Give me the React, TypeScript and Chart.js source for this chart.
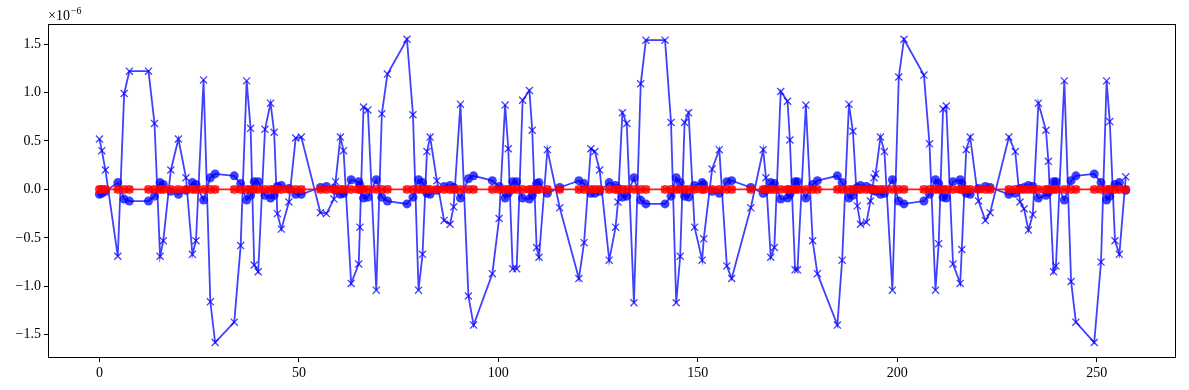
import React, { useEffect, useRef } from "react";
import { Chart, registerables } from "chart.js";

Chart.register(...registerables);

// x positions of the samples
const xValues = [
  0.0, 0.6, 1.5, 4.6, 6.2, 7.5, 12.3, 13.8, 15.2, 16.0,
  17.9, 19.8, 21.7, 23.3, 24.2, 26.1, 27.8, 29.0, 33.8, 35.4,
  36.9, 37.9, 38.8, 39.8, 41.5, 42.9, 43.8, 44.6, 45.6, 47.5,
  49.2, 50.6, 55.4, 56.9, 58.8, 59.2, 60.4, 61.2, 63.1, 65.0,
  65.3, 66.2, 67.3, 69.4, 70.8, 72.2, 77.1, 78.6, 80.0, 81.0,
  82.1, 82.9, 84.6, 86.4, 87.9, 88.8, 90.5, 92.5, 93.8, 98.5,
  100.2, 101.7, 102.5, 103.6, 104.6, 106.1, 107.8, 108.5, 109.6, 110.2,
  112.3, 115.4, 120.2, 121.5, 123.2, 124.2, 125.4, 127.8, 129.4, 130.0,
  131.1, 132.2, 134.0, 135.7, 137.0, 141.8, 143.3, 144.6, 145.6, 146.7,
  147.7, 149.2, 151.1, 151.5, 153.6, 155.4, 157.3, 158.5, 163.3, 166.4,
  167.1, 168.3, 169.2, 170.8, 172.5, 173.1, 174.4, 175.0, 177.1, 178.8,
  180.0, 185.0, 186.2, 187.9, 188.9, 190.0, 190.8, 192.3, 193.3, 194.2,
  194.6, 195.8, 196.8, 198.8, 200.4, 201.7, 206.7, 208.1, 209.6, 210.4,
  211.5, 212.3, 214.0, 215.8, 216.2, 217.3, 218.3, 220.4, 222.1, 223.3,
  228.0, 229.6, 230.8, 231.8, 232.9, 234.0, 235.4, 237.3, 237.9, 239.2,
  239.8, 241.9, 243.6, 244.8, 249.4, 251.1, 252.5, 253.3, 254.6, 255.7,
  257.3,
];

// blue "x" series, in units of 1e-6
const blueCrossValues = [
  0.52, 0.40, 0.20, -0.69, 0.99, 1.22, 1.22, 0.68, -0.69, -0.53,
  0.20, 0.52, 0.12, -0.67, -0.53, 1.13, -1.16, -1.58, -1.37, -0.58,
  1.12, 0.63, -0.78, -0.85, 0.62, 0.89, 0.59, -0.25, -0.41, -0.13,
  0.53, 0.54, -0.24, -0.25, -0.10, 0.08, 0.54, 0.40, -0.97, -0.77,
  -0.39, 0.85, 0.82, -1.04, 0.78, 1.19, 1.55, 0.77, -1.04, -0.67,
  0.39, 0.54, 0.09, -0.32, -0.36, -0.18, 0.88, -1.10, -1.40, -0.87,
  -0.30, 0.87, 0.42, -0.82, -0.82, 0.92, 1.02, 0.61, -0.60, -0.70,
  0.41, -0.19, -0.92, -0.55, 0.42, 0.39, 0.20, -0.73, -0.39, -0.13,
  0.79, 0.68, -1.17, 1.09, 1.54, 1.54, 0.69, -1.17, -0.69, 0.69,
  0.79, -0.39, -0.73, -0.51, 0.21, 0.41, -0.79, -0.92, -0.19, 0.41,
  0.12, -0.70, -0.60, 1.01, 0.91, 0.51, -0.83, -0.83, 0.87, -0.53,
  -0.87, -1.40, -0.73, 0.88, 0.60, -0.17, -0.36, -0.34, -0.12, 0.12,
  0.16, 0.54, 0.39, -1.04, 1.16, 1.55, 1.18, 0.47, -1.04, -0.56,
  0.83, 0.86, -0.77, -0.97, -0.62, 0.41, 0.54, -0.12, -0.32, -0.24,
  0.54, 0.39, -0.13, -0.20, -0.42, -0.26, 0.89, 0.61, 0.29, -0.85,
  -0.79, 1.12, -0.95, -1.37, -1.58, -0.75, 1.12, 0.70, -0.53, -0.67,
  0.13,
];

// blue "o" series, in units of 1e-6
const blueCircleValues = [
  -0.05, -0.04, -0.02, 0.07, -0.10, -0.12, -0.12, -0.07, 0.07, 0.05,
  -0.02, -0.05, -0.01, 0.07, 0.05, -0.11, 0.12, 0.16, 0.14, 0.06,
  -0.11, -0.06, 0.08, 0.08, -0.06, -0.09, -0.06, 0.03, 0.04, 0.01,
  -0.05, -0.05, 0.02, 0.03, 0.01, -0.01, -0.05, -0.04, 0.10, 0.08,
  0.04, -0.09, -0.08, 0.10, -0.08, -0.12, -0.15, -0.08, 0.10, 0.07,
  -0.04, -0.05, -0.01, 0.03, 0.04, 0.02, -0.09, 0.11, 0.14, 0.09,
  0.03, -0.09, -0.04, 0.08, 0.08, -0.09, -0.10, -0.06, 0.06, 0.07,
  -0.04, 0.02, 0.09, 0.06, -0.04, -0.04, -0.02, 0.07, 0.04, 0.01,
  -0.08, -0.07, 0.12, -0.11, -0.15, -0.15, -0.07, 0.12, 0.07, -0.07,
  -0.08, 0.04, 0.07, 0.05, -0.02, -0.04, 0.08, 0.09, 0.02, -0.04,
  -0.01, 0.07, 0.06, -0.10, -0.09, -0.05, 0.08, 0.08, -0.09, 0.05,
  0.09, 0.14, 0.07, -0.09, -0.06, 0.02, 0.04, 0.03, 0.01, -0.01,
  -0.02, -0.05, -0.04, 0.10, -0.12, -0.15, -0.12, -0.05, 0.10, 0.06,
  -0.08, -0.09, 0.08, 0.10, 0.06, -0.04, -0.05, 0.01, 0.03, 0.02,
  -0.05, -0.04, 0.01, 0.02, 0.04, 0.03, -0.09, -0.06, -0.03, 0.08,
  0.08, -0.11, 0.09, 0.14, 0.16, 0.07, -0.11, -0.07, 0.05, 0.07,
  -0.01,
];

// red series (both markers), in units of 1e-6
const redValues = [
  0, 0, 0, 0, 0, 0, 0, 0, 0, 0, 0, 0, 0, 0, 0, 0, 0, 0, 0, 0,
  0, 0, 0, 0, 0, 0, 0, 0, 0, 0, 0, 0, 0, 0, 0, 0, 0, 0, 0, 0,
  0, 0, 0, 0, 0, 0, 0, 0, 0, 0, 0, 0, 0, 0, 0, 0, 0, 0, 0, 0,
  0, 0, 0, 0, 0, 0, 0, 0, 0, 0, 0, 0, 0, 0, 0, 0, 0, 0, 0, 0,
  0, 0, 0, 0, 0, 0, 0, 0, 0, 0, 0, 0, 0, 0, 0, 0, 0, 0, 0, 0,
  0, 0, 0, 0, 0, 0, 0, 0, 0, 0, 0, 0, 0, 0, 0, 0, 0, 0, 0, 0,
  0, 0, 0, 0, 0, 0, 0, 0, 0, 0, 0, 0, 0, 0, 0, 0, 0, 0, 0, 0,
  0, 0, 0, 0, 0, 0, 0, 0, 0, 0, 0, 0, 0, 0, 0, 0, 0, 0, 0, 0,
  0,
];

const xTicks = [0, 50, 100, 150, 200, 250];
const yTicks = [-1.5, -1.0, -0.5, 0.0, 0.5, 1.0, 1.5];
const exponentBase = "×10";
const exponentPower = "−6";

const FONT = '"Liberation Serif", "Times New Roman", serif';

function pts(ys: number[]) {
  return xValues.map((x, i) => ({ x, y: ys[i] }));
}

const framePlugin = {
  id: "frame",
  afterDraw(chart: any) {
    const { ctx, chartArea } = chart;
    ctx.save();
    ctx.strokeStyle = "#000";
    ctx.lineWidth = 1;
    ctx.strokeRect(
      Math.round(chartArea.left) + 0.5,
      Math.round(chartArea.top) + 0.5,
      Math.round(chartArea.right - chartArea.left) - 1,
      Math.round(chartArea.bottom - chartArea.top) - 1
    );
    ctx.fillStyle = "#000";
    ctx.textBaseline = "alphabetic";
    ctx.textAlign = "left";
    ctx.font = `14px ${FONT}`;
    const x0 = chartArea.left;
    ctx.fillText(exponentBase, x0, chartArea.top - 4);
    const w = ctx.measureText(exponentBase).width;
    ctx.font = `10px ${FONT}`;
    ctx.fillText(exponentPower, x0 + w + 1, chartArea.top - 10);
    ctx.restore();
  },
};

export default function App() {
  const ref = useRef<HTMLCanvasElement | null>(null);

  useEffect(() => {
    if (!ref.current) return;
    const blue = "rgba(0,0,255,0.75)";
    const red = "rgba(255,0,0,0.8)";
    const chart = new Chart(ref.current, {
      type: "line",
      data: {
        datasets: [
          {
            data: pts(blueCrossValues),
            borderColor: blue,
            borderWidth: 1.8,
            pointStyle: "crossRot",
            pointRadius: 5,
            pointBorderWidth: 1.3,
            pointBorderColor: blue,
            pointBackgroundColor: blue,
            order: 3,
          },
          {
            data: pts(blueCircleValues),
            borderColor: blue,
            borderWidth: 1.8,
            pointStyle: "circle",
            pointRadius: 4.5,
            pointBorderWidth: 0,
            pointBackgroundColor: blue,
            order: 2,
          },
          {
            data: pts(redValues),
            borderColor: "rgba(255,0,0,0.9)",
            borderWidth: 1.8,
            pointStyle: "circle",
            pointRadius: 4.5,
            pointBorderWidth: 0,
            pointBackgroundColor: red,
            order: 1,
          },
          {
            data: pts(redValues),
            borderColor: red,
            borderWidth: 0,
            showLine: false,
            pointStyle: "crossRot",
            pointRadius: 5,
            pointBorderWidth: 1.3,
            pointBorderColor: red,
            order: 0,
          },
        ],
      },
      options: {
        responsive: false,
        animation: false,
        devicePixelRatio: 1,
        layout: { padding: { top: 24, right: 13, left: 0, bottom: 0 } },
        plugins: {
          legend: { display: false },
          tooltip: { enabled: false },
        },
        elements: { line: { tension: 0 } },
        scales: {
          x: {
            type: "linear",
            min: -12.9,
            max: 269.9,
            afterFit: (s: any) => {
              s.height = 32;
            },
            afterBuildTicks: (s: any) => {
              s.ticks = xTicks.map((v) => ({ value: v }));
            },
            grid: {
              display: true,
              drawOnChartArea: false,
              drawTicks: true,
              tickLength: 4,
              color: "#000",
              lineWidth: 1,
            },
            border: { display: false },
            ticks: {
              color: "#000",
              font: { family: FONT, size: 14 },
              padding: 3,
              maxRotation: 0,
              callback: (v: any) => String(v),
            },
          },
          y: {
            type: "linear",
            min: -1.74,
            max: 1.707,
            afterFit: (s: any) => {
              s.width = 48;
            },
            afterBuildTicks: (s: any) => {
              s.ticks = yTicks.map((v) => ({ value: v }));
            },
            grid: {
              display: true,
              drawOnChartArea: false,
              drawTicks: true,
              tickLength: 4,
              color: "#000",
              lineWidth: 1,
            },
            border: { display: false },
            ticks: {
              color: "#000",
              font: { family: FONT, size: 14 },
              padding: 3,
              callback: (v: any) => Number(v).toFixed(1).replace("-", "−"),
            },
          },
        },
      },
      plugins: [framePlugin],
    });
    return () => chart.destroy();
  }, []);

  return (
    <div style={{ position: "fixed", left: 0, top: 0, width: 1189, height: 390, background: "#fff" }}>
      <canvas ref={ref} width={1189} height={390} style={{ width: 1189, height: 390, display: "block" }} />
    </div>
  );
}
